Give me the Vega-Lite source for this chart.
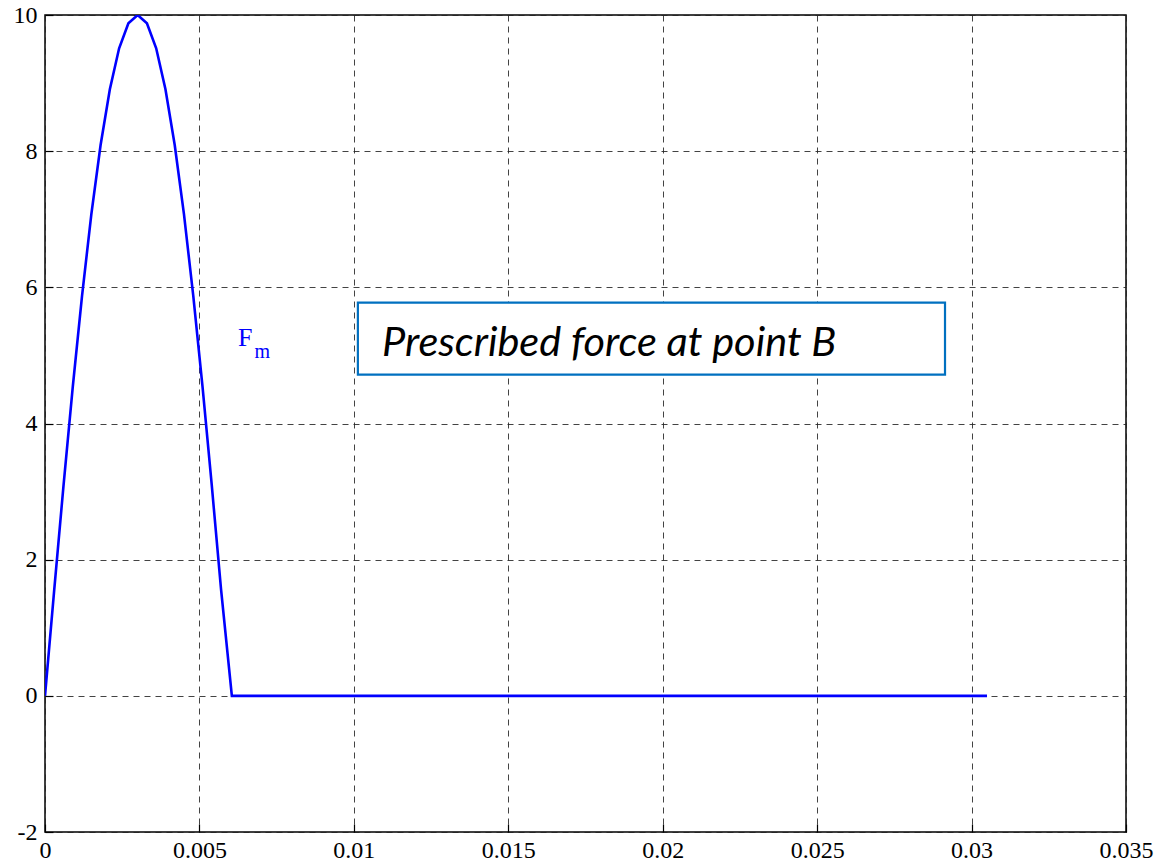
{
  "$schema": "https://vega.github.io/schema/vega-lite/v6.json",
  "width": 1081,
  "height": 817,
  "autosize": {"type": "none"},
  "padding": {"left": 45, "top": 15, "right": 29, "bottom": 29},
  "background": "white",
  "config": {
    "view": {"stroke": "black", "strokeWidth": 1.5},
    "axis": {
      "labelFont": "Liberation Serif",
      "labelFontSize": 24,
      "labelColor": "black",
      "domain": false,
      "tickColor": "black",
      "tickSize": -8,
      "tickWidth": 1.2,
      "grid": true,
      "gridColor": "#222222",
      "gridDash": [6, 5],
      "gridWidth": 1,
      "gridOpacity": 0.85,
      "title": null
    }
  },
  "datasets": {
    "force": [
      {"t": 0, "f": 0},
      {"t": 0.0003, "f": 1.564},
      {"t": 0.0006, "f": 3.09},
      {"t": 0.0009, "f": 4.54},
      {"t": 0.0012, "f": 5.878},
      {"t": 0.0015, "f": 7.071},
      {"t": 0.0018, "f": 8.09},
      {"t": 0.0021, "f": 8.91},
      {"t": 0.0024, "f": 9.511},
      {"t": 0.0027, "f": 9.877},
      {"t": 0.003, "f": 10},
      {"t": 0.0033, "f": 9.877},
      {"t": 0.0036, "f": 9.511},
      {"t": 0.0039, "f": 8.91},
      {"t": 0.0042, "f": 8.09},
      {"t": 0.0045, "f": 7.071},
      {"t": 0.0048, "f": 5.878},
      {"t": 0.0051, "f": 4.54},
      {"t": 0.0054, "f": 3.09},
      {"t": 0.0057, "f": 1.564},
      {"t": 0.00605, "f": 0},
      {"t": 0.0305, "f": 0}
    ],
    "box": [{"x1": 0.01013, "x2": 0.02914, "y1": 4.718, "y2": 5.776}],
    "label": [{"x": 0.01091, "y": 4.987, "text": "Prescribed force at point B"}],
    "fm": [{"x": 0.00625, "y": 5.14, "text": "F"}],
    "fmsub": [{"x": 0.00678, "y": 4.96, "text": "m"}]
  },
  "layer": [
    {
      "data": {"name": "force"},
      "mark": {"type": "line", "color": "#0000FF", "strokeWidth": 2.6, "clip": true},
      "encoding": {
        "x": {"field": "t", "type": "quantitative", "scale": {"domain": [0, 0.035], "nice": false, "zero": false},
          "axis": {"values": [0, 0.005, 0.01, 0.015, 0.02, 0.025, 0.03, 0.035], "labelExpr": "datum.value == 0 ? '0' : format(datum.value, '~g')", "labelPadding": 14, "labelFlush": false, "orient": "bottom"}},
        "y": {"field": "f", "type": "quantitative", "scale": {"domain": [-2, 10], "nice": false, "zero": false},
          "axis": {"values": [-2, 0, 2, 4, 6, 8, 10], "labelExpr": "'' + datum.value", "labelPadding": 16, "labelFlush": false, "orient": "left"}}
      }
    },
    {
      "data": {"name": "box"},
      "mark": {"type": "rect", "fill": "white", "stroke": "#0070C0", "strokeWidth": 2.2},
      "encoding": {
        "x": {"field": "x1", "type": "quantitative"},
        "x2": {"field": "x2"},
        "y": {"field": "y1", "type": "quantitative"},
        "y2": {"field": "y2"}
      }
    },
    {
      "data": {"name": "label"},
      "mark": {"type": "text", "font": "Lato", "fontStyle": "italic", "fontSize": 41.5, "align": "left", "baseline": "alphabetic", "color": "black"},
      "encoding": {
        "x": {"field": "x", "type": "quantitative"},
        "y": {"field": "y", "type": "quantitative"},
        "text": {"field": "text"}
      }
    },
    {
      "data": {"name": "fm"},
      "mark": {"type": "text", "font": "Liberation Serif", "fontSize": 26, "align": "left", "baseline": "alphabetic", "color": "#0000FF"},
      "encoding": {
        "x": {"field": "x", "type": "quantitative"},
        "y": {"field": "y", "type": "quantitative"},
        "text": {"field": "text"}
      }
    },
    {
      "data": {"name": "fmsub"},
      "mark": {"type": "text", "font": "Liberation Serif", "fontSize": 20, "align": "left", "baseline": "alphabetic", "color": "#0000FF"},
      "encoding": {
        "x": {"field": "x", "type": "quantitative"},
        "y": {"field": "y", "type": "quantitative"},
        "text": {"field": "text"}
      }
    }
  ]
}
